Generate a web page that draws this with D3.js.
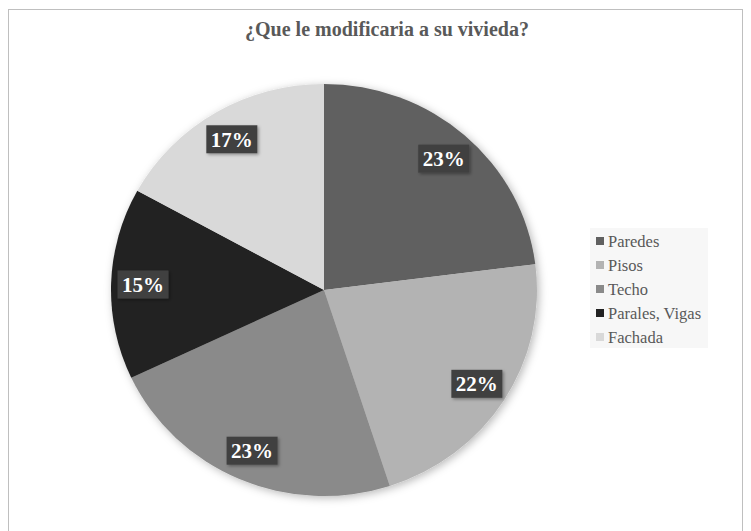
<!DOCTYPE html>
<html>
<head>
<meta charset="utf-8">
<script src="https://cdn.jsdelivr.net/npm/d3@7"></script>
<style>
  html, body { margin: 0; padding: 0; background: #ffffff; }
  svg { display: block; }
</style>
</head>
<body>
<svg id="chart" width="751" height="531"></svg>
<script>
// ---- data ----
const categories = ["Paredes", "Pisos", "Techo", "Parales, Vigas", "Fachada"];
const values = [23, 22, 23, 15, 17];
const colors = ["#606060", "#b3b3b3", "#8a8a8a", "#212121", "#d9d9d9"];
const title = "¿Que le modificaria a su vivieda?";

// ---- layout ----
const cx = 324, cy = 290, rx = 213, ry = 206;
const labelFrac = 0.85;
const SERIF = '"Liberation Serif"';

const svg = d3.select("#chart");
const defs = svg.append("defs");

const pieShadow = defs.append("filter").attr("id", "pieShadow")
  .attr("x", "-20%").attr("y", "-20%").attr("width", "140%").attr("height", "140%");
pieShadow.append("feDropShadow").attr("dx", 2).attr("dy", 2)
  .attr("stdDeviation", 4).attr("flood-color", "#000").attr("flood-opacity", 0.28);

const boxShadow = defs.append("filter").attr("id", "boxShadow")
  .attr("x", "-30%").attr("y", "-30%").attr("width", "160%").attr("height", "160%");
boxShadow.append("feDropShadow").attr("dx", 1.5).attr("dy", 1.5)
  .attr("stdDeviation", 1.5).attr("flood-color", "#000").attr("flood-opacity", 0.35);

// chart frame
svg.append("rect")
  .attr("x", 8.5).attr("y", 9.5)
  .attr("width", 734).attr("height", 540)
  .attr("fill", "#ffffff").attr("stroke", "#bfbfbf").attr("stroke-width", 1);

// title
svg.append("text")
  .style("font-family", SERIF)
  .attr("x", 387).attr("y", 36)
  .attr("text-anchor", "middle")
  .attr("font-weight", "bold")
  .attr("font-size", 20)
  .attr("fill", "#595959")
  .text(title);

// pie
const color = d3.scaleOrdinal().domain(categories).range(colors);
const pie = d3.pie().sort(null).value(d => d.value).startAngle(0).endAngle(2 * Math.PI);
const data = categories.map((c, i) => ({ name: c, value: values[i] }));
const arcs = pie(data);
const arc = d3.arc().innerRadius(0).outerRadius(ry);

const pieG = svg.append("g")
  .attr("transform", `translate(${cx},${cy}) scale(${rx / ry},1)`)
  .attr("filter", "url(#pieShadow)");

pieG.selectAll("path")
  .data(arcs)
  .join("path")
  .attr("d", arc)
  .attr("fill", d => color(d.data.name));

// labels
const total = d3.sum(values);
const fmt = d3.format(".0%");
const labelArc = d3.arc().innerRadius(ry * labelFrac).outerRadius(ry * labelFrac);
const lblG = svg.append("g");
arcs.forEach(d => {
  const [x0, y0] = labelArc.centroid(d);
  const x = cx + x0 * rx / ry;
  const y = cy + y0;
  const g = lblG.append("g").attr("transform", `translate(${x},${y})`);
  g.append("rect")
    .attr("x", -25.5).attr("y", -14)
    .attr("width", 51).attr("height", 28)
    .attr("fill", "#404040")
    .attr("filter", "url(#boxShadow)");
  g.append("text")
    .style("font-family", SERIF)
    .attr("text-anchor", "middle")
    .attr("dy", "0.35em")
    .attr("font-weight", "bold")
    .attr("font-size", 21)
    .attr("fill", "#ffffff")
    .text(fmt(d.data.value / total));
});

// legend
const legendG = svg.append("g").attr("transform", "translate(590,228)");
legendG.append("rect")
  .attr("width", 118).attr("height", 120)
  .attr("fill", "#f2f2f2").attr("fill-opacity", 0.6);
const items = legendG.selectAll("g.item")
  .data(categories)
  .join("g")
  .attr("class", "item")
  .attr("transform", (d, i) => `translate(0,${13 + i * 24})`);
items.append("rect")
  .attr("x", 6).attr("y", -4)
  .attr("width", 8).attr("height", 8)
  .attr("fill", d => color(d));
items.append("text")
  .style("font-family", SERIF)
  .attr("x", 18).attr("dy", "0.35em")
  .attr("font-size", 16.5)
  .attr("fill", "#595959")
  .text(d => d);
</script>
</body>
</html>
